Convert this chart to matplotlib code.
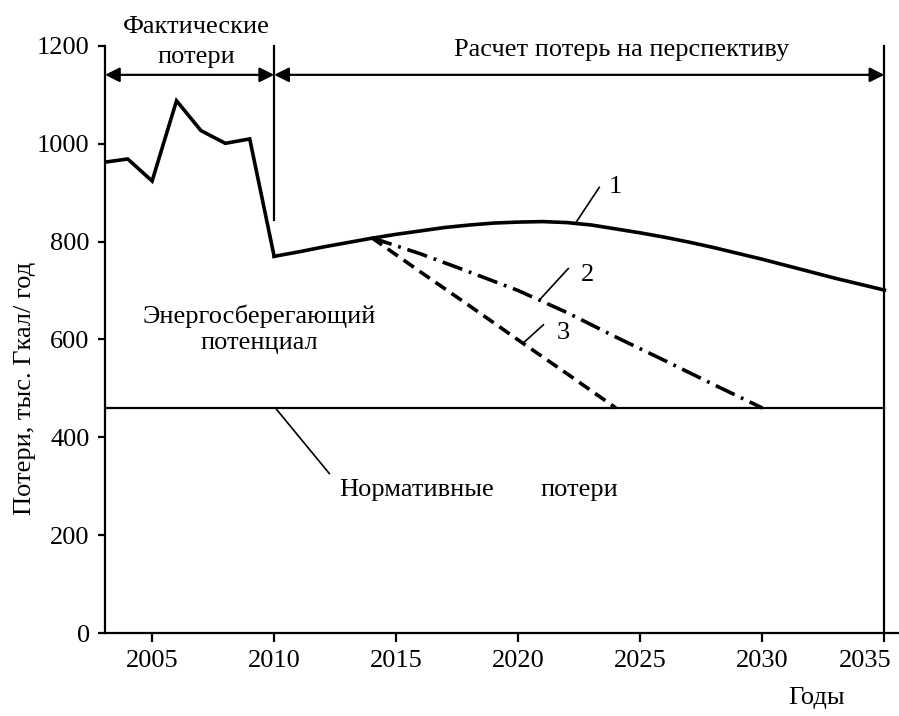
import matplotlib
matplotlib.use('Agg')
import matplotlib.pyplot as plt
from matplotlib.transforms import ScaledTranslation

plt.rcParams['font.family'] = ['Liberation Serif', 'DejaVu Serif']
plt.rcParams['lines.scale_dashes'] = False

# фактические потери
years_fact = [2003, 2004, 2005, 2006, 2007, 2008, 2009, 2010]
loss_fact = [962, 969, 924, 1088, 1027, 1001, 1010, 770]

# прогноз 1
years_1 = [2010, 2011, 2012, 2013, 2014, 2015, 2016, 2017, 2018, 2019, 2020, 2021, 2022,
           2023, 2024, 2025, 2026, 2027, 2028, 2029, 2030, 2031, 2032, 2033, 2034, 2035]
loss_1 = [770, 779, 789, 798, 807, 815, 822, 829, 834, 838, 840, 841, 839,
          834, 826, 818, 809, 799, 788, 776, 764, 751, 738, 725, 713, 701]

# прогноз 2
years_2 = [2014, 2016, 2018, 2020, 2022, 2024, 2026, 2028, 2030]
loss_2 = [808, 775, 738, 700, 655, 605, 557, 508, 460]

# прогноз 3
years_3 = [2014, 2016, 2018, 2020, 2022, 2024]
loss_3 = [808, 738, 669, 599, 530, 460]

norm_loss = 460
xticks = [2005, 2010, 2015, 2020, 2025, 2030, 2035]
yticks = [0, 200, 400, 600, 800, 1000, 1200]

fig = plt.figure(figsize=(8.99, 7.16), dpi=100)
ax = fig.add_axes([0.1168, 0.1159, 0.8832, 0.8199])
ax.set_xlim(2003.07, 2035.6)
ax.set_ylim(0, 1200)

ax.spines['top'].set_visible(False)
ax.spines['right'].set_visible(False)
ax.spines['left'].set_linewidth(1.6)
ax.spines['bottom'].set_linewidth(1.6)

ax.set_xticks(xticks)
ax.set_yticks(yticks)
ax.tick_params(axis='x', direction='out', length=6.5, width=1.6, pad=6, labelsize=19)
ax.tick_params(axis='y', direction='out', length=5, width=1.6, pad=6, labelsize=19)

lw = 2.6
ax.plot(years_fact, loss_fact, color='black', lw=lw, solid_joinstyle='miter')
ax.plot(years_1, loss_1, color='black', lw=lw)
ax.plot(years_2, loss_2, color='black', lw=lw, dashes=(15, 5, 2, 5))
ax.plot(years_3, loss_3, color='black', lw=lw, dashes=(9, 5))
ax.plot([2003.07, 2035], [norm_loss, norm_loss], color='black', lw=1.6)

# вертикальные линии
ax.plot([2010, 2010], [845, 1200], color='black', lw=1.6, clip_on=False)
ax.plot([2035, 2035], [0, 1200], color='black', lw=1.6, clip_on=False)

# стрелки
ap = dict(arrowstyle='<|-|>', color='black', lw=1.6, mutation_scale=22,
          shrinkA=0, shrinkB=0)
ax.annotate('', xy=(2003.07, 1141), xytext=(2010, 1141), arrowprops=ap,
            annotation_clip=False)
ax.annotate('', xy=(2010, 1141), xytext=(2035, 1141), arrowprops=ap,
            annotation_clip=False)

fs = 19
ax.text(2006.8, 1239, 'Фактические', ha='center', va='center',
        fontsize=fs, clip_on=False)
ax.text(2006.8, 1177, 'потери', ha='center', va='center',
        fontsize=fs, clip_on=False)
ax.text(2024.25, 1192, 'Расчет потерь на перспективу', ha='center', va='center',
        fontsize=fs, clip_on=False)
ax.text(2009.4, 621, 'Энергосберегающий\nпотенциал', ha='center', va='center',
        fontsize=fs, linespacing=1.25)
ax.text(2012.66, 292, 'Нормативные', ha='left', va='center', fontsize=fs)
ax.text(2020.9, 292, 'потери', ha='left', va='center', fontsize=fs)

# выноски
kw = dict(color='black', lw=1.2)
ax.plot([2022.39, 2023.32], [841, 911], **kw)
ax.plot([2020.89, 2022.05], [682, 745], **kw)
ax.plot([2020.21, 2021.03], [593, 630], **kw)
ax.plot([2010.1, 2012.26], [457, 326], **kw)
ax.text(2023.96, 912, '1', ha='center', va='center', fontsize=fs)
ax.text(2022.85, 732, '2', ha='center', va='center', fontsize=fs)
ax.text(2021.83, 613, '3', ha='center', va='center', fontsize=fs)

fig.text(25 / 899, 1 - 388 / 716, 'Потери, тыс. Гкал/ год', rotation=90,
         ha='center', va='center', fontsize=fs)
fig.text(817 / 899, 1 - 698 / 716, 'Годы', ha='center', va='center', fontsize=fs)

fig.canvas.draw()
lbl = ax.get_xticklabels()[-1]
lbl.set_transform(lbl.get_transform() + ScaledTranslation(-0.19, 0, fig.dpi_scale_trans))

fig.savefig('out.png', dpi=100)
